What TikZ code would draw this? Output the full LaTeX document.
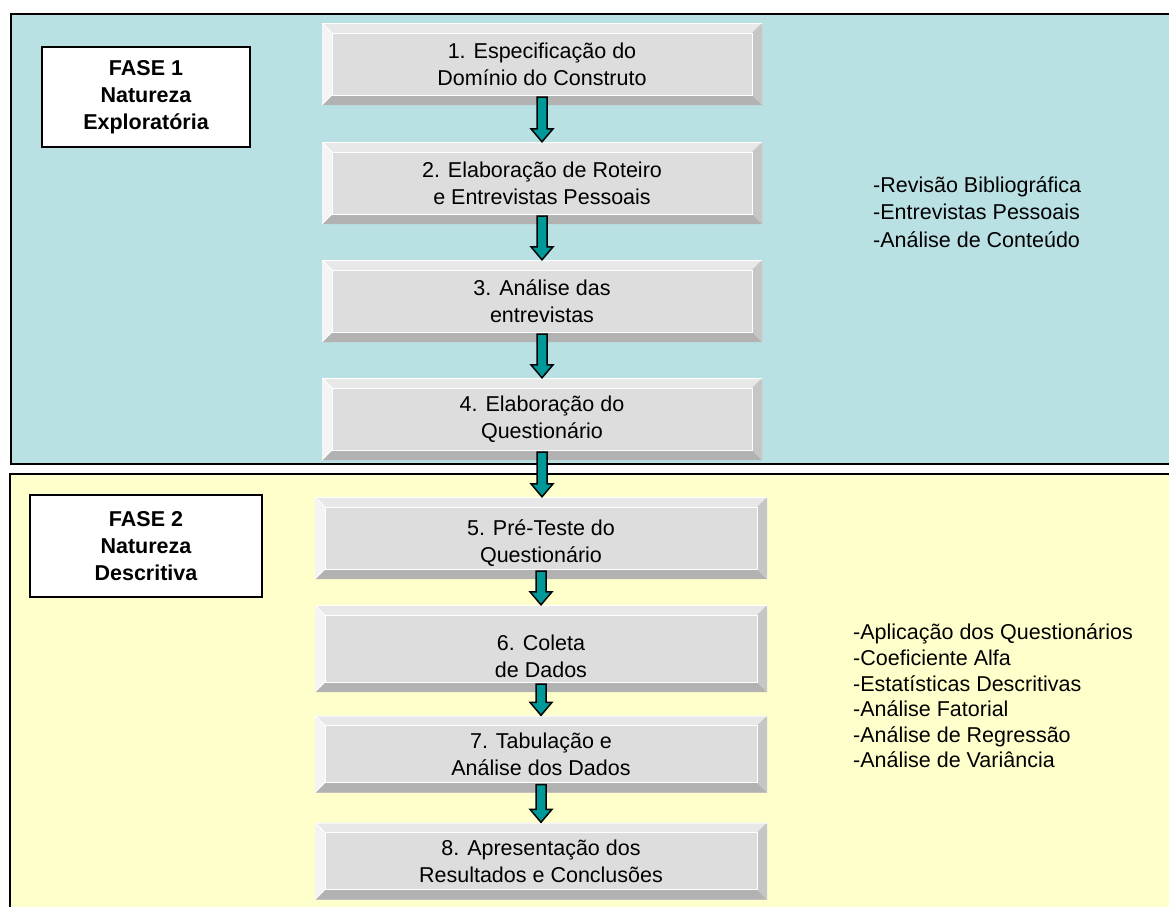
\documentclass[tikz,border=0pt]{standalone}
\usepackage{fontspec}
\setmainfont{Liberation Sans}
\usetikzlibrary{calc,positioning}

\definecolor{faseazul}{HTML}{B9E0E3}
\definecolor{faseamarelo}{HTML}{FFFFCC}
\definecolor{setateal}{HTML}{009999}
\definecolor{caixaface}{HTML}{DDDDDD}
\definecolor{caixaclaro}{HTML}{E8E8E8}
\definecolor{caixaescuro}{HTML}{B2B2B2}
\definecolor{caixalado}{HTML}{C6C6C6}

\tikzset{
  fase/.style={draw=black,line width=2.5pt},
  rotulo/.style={draw=black,line width=2pt,fill=white,align=center,
                 font=\bfseries\fontsize{21.5}{27}\selectfont},
  etapa/.style={fill=caixaface,align=center,inner sep=0pt,
                font=\fontsize{21.5}{27}\selectfont,
    path picture={
      \path (path picture bounding box.north west) coordinate (pnw)
            (path picture bounding box.south east) coordinate (pse);
      \fill[caixaclaro] (pnw) -- (pnw -| pse) -- ++(-10pt,-10pt)
            -- ($(pnw)+(10pt,-10pt)$) -- cycle;
      \fill[caixaclaro!50!white] (pnw) -- ($(pnw)+(10pt,-10pt)$)
            -- ($(pnw |- pse)+(10pt,10pt)$) -- (pnw |- pse) -- cycle;
      \fill[caixaescuro] (pnw |- pse) -- (pse) -- ++(-10pt,10pt)
            -- ($(pnw |- pse)+(10pt,10pt)$) -- cycle;
      \fill[caixalado] (pse) -- (pnw -| pse) -- ++(-10pt,-10pt)
            -- ($(pse)+(-10pt,10pt)$) -- cycle;
      \draw[white,line width=1pt] ($(pnw)+(10pt,-10pt)$) rectangle ($(pse)+(-10pt,10pt)$);
      \draw[white,line width=1pt] (pnw) -- ++(10pt,-10pt)
            (pnw |- pse) -- ++(10pt,10pt) ($(pnw)+(0,-0.5pt)$) -- ($(pnw -| pse)+(0,-0.5pt)$);
    }},
  lista/.style={align=left,inner sep=0pt,anchor=west},
  seta/.style={draw=black,line width=1.5pt,fill=setateal,line join=miter},
}

% seta larga entre duas etapas
\newcommand{\ligar}[2]{%
  \draw[seta] let \p1=(#1.south), \p2=(#2.north) in
    (\x1-5pt,\y1+8pt) -- (\x1+5pt,\y1+8pt) -- (\x1+5pt,\y2+13pt)
    -- (\x1+11pt,\y2+13pt) -- (\x1,\y2) -- (\x1-11pt,\y2+13pt)
    -- (\x1-5pt,\y2+13pt) -- cycle;}

\begin{document}
\begin{tikzpicture}[x=1pt,y=-1pt]
  \useasboundingbox (0,0) rectangle (1169,906);
%
  \draw[fase,fill=faseazul] (11,14) rectangle (1185,464);
  \draw[fase,fill=faseamarelo] (10,474) rectangle (1185,920);
%
  \node[rotulo,minimum width=208pt,minimum height=100pt] (fase1) at (146,97)
       {FASE 1\\Natureza\\Explorat\'oria};
  \node[rotulo,minimum width=232pt,minimum height=102pt] (fase2) at (146,546)
       {FASE 2\\Natureza\\Descritiva};
%
  \node[etapa,minimum width=440pt,minimum height=82pt] (e1) at (542,64)
       {1. Especifica\c{c}\~ao do\\Dom\'inio do Construto};
  \node[etapa,minimum width=440pt,minimum height=82pt] (e2) at (542,183)
       {2. Elabora\c{c}\~ao de Roteiro\\e Entrevistas Pessoais};
  \node[etapa,minimum width=440pt,minimum height=82pt] (e3) at (542,301)
       {3. An\'alise das\\entrevistas};
  \node[etapa,minimum width=440pt,minimum height=82pt] (e4) at (542,419)
       {4. Elabora\c{c}\~ao do\\Question\'ario};
%
  \node[etapa,minimum width=452pt,minimum height=82pt,text height=54pt] (e5) at (541,538)
       {5. Pr\'e-Teste do\\Question\'ario};
  \node[etapa,minimum width=452pt,minimum height=87pt,text height=58pt] (e6) at (541,648.5)
       {6. Coleta\\de Dados};
  \node[etapa,minimum width=452pt,minimum height=77pt] (e7) at (541,754)
       {7. Tabula\c{c}\~ao e\\An\'alise dos Dados};
  \node[etapa,minimum width=452pt,minimum height=77pt] (e8) at (541,861)
       {8. Apresenta\c{c}\~ao dos\\Resultados e Conclus\~oes};
%
  \ligar{e1}{e2}
  \ligar{e2}{e3}
  \ligar{e3}{e4}
  \ligar{e4}{e5}
  \ligar{e5}{e6}
  \ligar{e6}{e7}
  \ligar{e7}{e8}
%
  \node[lista,font=\fontsize{21.5}{27.5}\selectfont] (lista1) at (873,212)
       {-Revis\~ao Bibliogr\'afica\\-Entrevistas Pessoais\\-An\'alise de Conte\'udo};
  \node[lista,font=\fontsize{21.5}{25.6}\selectfont] (lista2) at (853,696)
       {-Aplica\c{c}\~ao dos Question\'arios\\-Coeficiente Alfa\\-Estat\'isticas Descritivas\\
        -An\'alise Fatorial\\-An\'alise de Regress\~ao\\-An\'alise de Vari\^ancia};
\end{tikzpicture}
\end{document}
